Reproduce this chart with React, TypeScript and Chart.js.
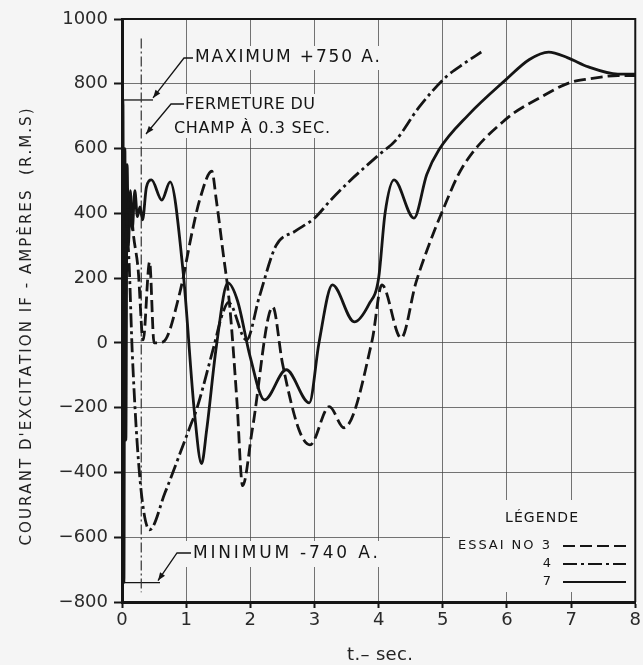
import React, { useEffect, useRef } from "react";
import { Chart, registerables } from "chart.js";

Chart.register(...registerables);

// ---- data ----
const xTickValues = [0, 1, 2, 3, 4, 5, 6, 7, 8];
const yTickValues = [-800, -600, -400, -200, 0, 200, 400, 600, 800, 1000];

// Essai no 3 (long dashes)
const t3 = [0.03, 0.07, 0.12, 0.18, 0.25, 0.33, 0.43, 0.5, 0.64, 0.9, 1.1, 1.21, 1.4, 1.47, 1.57, 1.68, 1.79, 1.88, 2.03, 2.35, 2.5, 2.76, 2.93, 3.23, 3.46, 3.9, 4.05, 4.35, 4.58, 4.78, 5.0, 5.3, 5.98, 6.54, 6.96, 7.27, 7.73, 8];
const v3 = [100, 350, 450, 330, 230, 9, 250, 0, 3, 154, 349, 441, 530, 441, 287, 111, -176, -441, -269, 111, -62, -269, -315, -197, -262, 9, 179, 15, 185, 300, 410, 540, 690, 760, 802, 815, 825, 825];

// Essai no 4 (dash-dot)
const t4 = [0.06, 0.11, 0.16, 0.28, 0.43, 0.67, 1.06, 1.16, 1.43, 1.57, 1.66, 1.94, 2.14, 2.4, 2.7, 3.0, 3.25, 3.55, 3.8, 4.0, 4.27, 4.63, 5.05, 5.35, 5.6];
const v4 = [400, 250, -30, -420, -577, -463, -259, -207, -12, 92, 125, 9, 142, 300, 345, 385, 440, 500, 545, 580, 626, 728, 821, 865, 898];

// Essai no 7 (solid)
const t7 = [0, 0.015, 0.03, 0.045, 0.06, 0.08, 0.1, 0.13, 0.16, 0.2, 0.24, 0.28, 0.32, 0.38, 0.46, 0.62, 0.75, 0.95, 1.13, 1.24, 1.32, 1.47, 1.65, 1.8, 2.0, 2.22, 2.56, 2.92, 3.07, 3.28, 3.62, 3.85, 4.0, 4.1, 4.24, 4.55, 4.75, 4.94, 5.4, 5.98, 6.35, 6.65, 6.95, 7.27, 7.73, 8];
const v7 = [0, 750, -740, 600, -300, 550, 300, 470, 350, 470, 390, 420, 380, 480, 503, 441, 497, 225, -216, -373, -268, -12, 185, 130, -45, -176, -83, -185, 0, 179, 65, 120, 200, 400, 503, 385, 520, 596, 704, 812, 875, 898, 880, 852, 830, 830];

const legendLabels = ["ESSAI NO 3", "4", "7"];
const maxValue = 750;
const minValue = -740;
const closureTime = 0.3;
const closureTop = 940;
const closureBottom = -770;

const yTitle = "COURANT D'EXCITATION IF - AMPÈRES  (R.M.S)";
const xTitle = "t.– sec.";
const maxText = "MAXIMUM +750 A.";
const minText = "MINIMUM -740 A.";
const closureText1 = "FERMETURE DU";
const closureText2 = "CHAMP À 0.3 SEC.";
const legendTitle = "LÉGENDE";

// ---- styles ----
const W = 643;
const H = 665;
const BG = "#f5f5f5";
const INK = "#151515";
const dash3 = [12, 5];
const dash4 = [14, 4, 3, 4];
const LABEL_FONT = '"DejaVu Sans", sans-serif';

function pts(ts: number[], vs: number[]) {
  return ts.map((t, i) => ({ x: t, y: vs[i] }));
}

function spaced(ctx: CanvasRenderingContext2D, text: string, x: number, y: number, width: number, align: "left" | "center" | "right") {
  const chars = Array.from(text);
  const ws = chars.map((c) => ctx.measureText(c).width);
  const natural = ws.reduce((a, b) => a + b, 0);
  const gap = chars.length > 1 ? (width - natural) / (chars.length - 1) : 0;
  let start = align === "left" ? x : align === "center" ? x - width / 2 : x - width;
  ctx.textAlign = "left";
  chars.forEach((c, i) => {
    ctx.fillText(c, start, y);
    start += ws[i] + gap;
  });
}

function arrowLine(ctx: CanvasRenderingContext2D, path: [number, number][]) {
  ctx.beginPath();
  ctx.moveTo(path[0][0], path[0][1]);
  for (let i = 1; i < path.length; i++) ctx.lineTo(path[i][0], path[i][1]);
  ctx.stroke();
  const [ax, ay] = path[path.length - 2];
  const [bx, by] = path[path.length - 1];
  const ang = Math.atan2(by - ay, bx - ax);
  const L = 8, Wd = 3;
  ctx.beginPath();
  ctx.moveTo(bx, by);
  ctx.lineTo(bx - L * Math.cos(ang) + Wd * Math.sin(ang), by - L * Math.sin(ang) - Wd * Math.cos(ang));
  ctx.lineTo(bx - L * Math.cos(ang) - Wd * Math.sin(ang), by - L * Math.sin(ang) + Wd * Math.cos(ang));
  ctx.closePath();
  ctx.fill();
}

const decorPlugin = {
  id: "decor",
  beforeDraw(chart: any) {
    const ctx = chart.ctx;
    ctx.save();
    ctx.fillStyle = BG;
    ctx.fillRect(0, 0, chart.width, chart.height);
    ctx.restore();
  },
  beforeDatasetsDraw(chart: any) {
    const ctx: CanvasRenderingContext2D = chart.ctx;
    const xs = chart.scales.x;
    const ys = chart.scales.y;
    const X = (v: number) => xs.getPixelForValue(v);
    const Y = (v: number) => ys.getPixelForValue(v);
    ctx.save();
    // masks behind labels (interrupt grid like the drawing)
    ctx.fillStyle = BG;
    ctx.fillRect(188, 46, 198, 24);
    ctx.fillRect(170, 94, 168, 44);
    ctx.fillRect(186, 541, 198, 26);
    ctx.fillRect(450, 500, 186, 92);

    ctx.fillStyle = INK;
    ctx.strokeStyle = INK;
    ctx.textBaseline = "middle";

    // annotation texts
    ctx.font = `17px ${LABEL_FONT}`;
    spaced(ctx, maxText, 195, 58, 185, "left");
    spaced(ctx, minText, 193, 554, 185, "left");
    ctx.font = `16px ${LABEL_FONT}`;
    spaced(ctx, closureText1, 185, 105, 130, "left");
    spaced(ctx, closureText2, 174, 129, 156, "left");

    // leaders
    ctx.lineWidth = 1.3;
    const x0 = X(0);
    ctx.beginPath();
    ctx.moveTo(x0 + 2, Y(maxValue));
    ctx.lineTo(x0 + 31, Y(maxValue));
    ctx.stroke();
    arrowLine(ctx, [[193, 58], [184, 58], [153, Y(maxValue) - 2]]);
    arrowLine(ctx, [[184, 104], [171, 104], [146, 134]]);
    ctx.beginPath();
    ctx.moveTo(x0 + 2, Y(minValue));
    ctx.lineTo(x0 + 38, Y(minValue));
    ctx.stroke();
    arrowLine(ctx, [[191, 553], [177, 553], [158, Y(minValue) - 2]]);

    // closure line at 0.3 s
    ctx.setLineDash([10, 3, 2, 3]);
    ctx.lineWidth = 1.2;
    ctx.strokeStyle = "#333";
    ctx.beginPath();
    ctx.moveTo(X(closureTime), Y(closureTop));
    ctx.lineTo(X(closureTime), Y(closureBottom));
    ctx.stroke();
    ctx.setLineDash([]);

    // legend
    ctx.fillStyle = INK;
    ctx.strokeStyle = INK;
    ctx.font = `14px ${LABEL_FONT}`;
    spaced(ctx, legendTitle, 505, 518, 73, "left");
    ctx.font = `13px ${LABEL_FONT}`;
    const rows = [546, 564, 582];
    const dashes = [dash3, dash4, []];
    legendLabels.forEach((lab, i) => {
      if (i === 0) spaced(ctx, lab, 550, rows[i], 92, "right");
      else {
        ctx.textAlign = "right";
        ctx.fillText(lab, 551, rows[i]);
      }
      ctx.setLineDash(dashes[i]);
      ctx.lineWidth = 2.2;
      ctx.beginPath();
      ctx.moveTo(563, rows[i]);
      ctx.lineTo(626, rows[i]);
      ctx.stroke();
    });
    ctx.setLineDash([]);

    // axis titles
    ctx.fillStyle = "#222";
    ctx.font = `15px ${LABEL_FONT}`;
    ctx.save();
    ctx.translate(27, 327);
    ctx.rotate(-Math.PI / 2);
    spaced(ctx, yTitle, 0, 0, 437, "center");
    ctx.restore();
    ctx.font = `18px ${LABEL_FONT}`;
    spaced(ctx, xTitle, 380, 655, 66, "center");
    ctx.restore();
  },
  afterDatasetsDraw(chart: any) {
    const ctx: CanvasRenderingContext2D = chart.ctx;
    const a = chart.chartArea;
    ctx.save();
    ctx.strokeStyle = INK;
    ctx.lineWidth = 2;
    ctx.beginPath();
    ctx.moveTo(a.left, a.top);
    ctx.lineTo(a.right, a.top);
    ctx.lineTo(a.right, a.bottom);
    ctx.stroke();
    ctx.restore();
  },
};

export default function App() {
  const ref = useRef<HTMLCanvasElement | null>(null);
  useEffect(() => {
    if (!ref.current) return;
    const tickFont = { family: '"DejaVu Sans", sans-serif', size: 18 };
    const chart = new Chart(ref.current, {
      type: "line",
      data: {
        datasets: [
          { label: legendLabels[0], data: pts(t3, v3), borderColor: INK, borderWidth: 2.8, borderDash: dash3 },
          { label: legendLabels[1], data: pts(t4, v4), borderColor: INK, borderWidth: 2.8, borderDash: dash4 },
          { label: legendLabels[2], data: pts(t7, v7), borderColor: INK, borderWidth: 2.8 },
        ],
      },
      options: {
        animation: false,
        responsive: false,
        devicePixelRatio: 1,
        layout: { padding: { left: 0, top: 19, right: 6, bottom: 0 } },
        plugins: { legend: { display: false }, tooltip: { enabled: false } },
        elements: {
          point: { radius: 0 },
          line: { cubicInterpolationMode: "monotone", fill: false },
        },
        scales: {
          x: {
            type: "linear",
            min: 0,
            max: 8,
            afterFit: (s: any) => { s.height = 63; },
            afterBuildTicks: (s: any) => { s.ticks = xTickValues.map((v) => ({ value: v })); },
            ticks: { font: tickFont, color: "#2a2a2a", padding: 2, maxRotation: 0, autoSkip: false },
            grid: { color: "rgba(70,70,70,0.75)", lineWidth: 1, tickLength: 6, tickColor: INK, tickWidth: 2 },
            border: { color: INK, width: 3 },
          },
          y: {
            type: "linear",
            min: -800,
            max: 1000,
            afterFit: (s: any) => { s.width = 122; },
            afterBuildTicks: (s: any) => { s.ticks = yTickValues.map((v) => ({ value: v })); },
            ticks: {
              font: tickFont,
              color: "#2a2a2a",
              padding: 6,
              autoSkip: false,
              callback: (v: any) => (Number(v) < 0 ? "\u2212" + Math.abs(Number(v)) : String(v)),
            },
            grid: { color: "rgba(70,70,70,0.75)", lineWidth: 1, tickLength: 8, tickColor: INK, tickWidth: 2 },
            border: { color: INK, width: 3 },
          },
        },
      },
      plugins: [decorPlugin],
    } as any);
    return () => chart.destroy();
  }, []);
  return (
    <div style={{ position: "absolute", left: 0, top: 0, width: W, height: H, background: BG }}>
      <canvas ref={ref} width={W} height={H} style={{ display: "block" }} />
    </div>
  );
}
